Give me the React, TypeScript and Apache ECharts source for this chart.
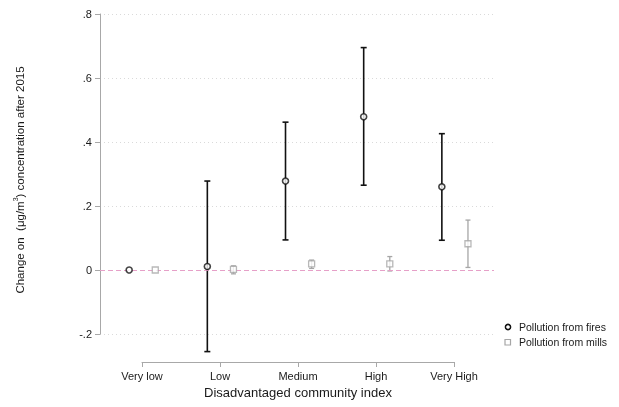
import React, { useEffect, useRef } from "react";
import * as echarts from "echarts";

const categories = ["Very low", "Low", "Medium", "High", "Very High"];
const yTickLabels: Record<string, string> = { "-0.2": "-.2", "0": "0", "0.2": ".2", "0.4": ".4", "0.6": ".6", "0.8": ".8" };

const firesEst = [0, 0.011, 0.278, 0.479, 0.26];
const firesLow = [0, -0.255, 0.094, 0.265, 0.093];
const firesHigh = [0, 0.278, 0.462, 0.695, 0.426];

const millsEst = [0, 0.002, 0.019, 0.019, 0.082];
const millsLow = [0, -0.012, 0.005, -0.003, 0.008];
const millsHigh = [0, 0.013, 0.031, 0.042, 0.156];

const FONT = "'Liberation Sans', Arial, sans-serif";
const OFFSET = 0.167;

function errorSeries(name: string, low: number[], high: number[], off: number, color: string, lw: number, capW: number) {
  const data = categories.map((_, i) => [i + 1 + off, low[i], high[i]]);
  return {
    type: "custom",
    name,
    xAxisIndex: 0,
    yAxisIndex: 0,
    silent: true,
    z: 2,
    renderItem: (params: any, api: any) => {
      const x = api.value(0);
      const lo = api.coord([x, api.value(1)]);
      const hi = api.coord([x, api.value(2)]);
      if (Math.abs(hi[1] - lo[1]) < 0.5) return { type: "group", children: [] };
      const st = { stroke: color, lineWidth: lw };
      return {
        type: "group",
        children: [
          { type: "line", shape: { x1: lo[0], y1: lo[1], x2: hi[0], y2: hi[1] }, style: st },
          { type: "line", shape: { x1: lo[0] - capW / 2, y1: lo[1], x2: lo[0] + capW / 2, y2: lo[1] }, style: st },
          { type: "line", shape: { x1: hi[0] - capW / 2, y1: hi[1], x2: hi[0] + capW / 2, y2: hi[1] }, style: st },
        ],
      };
    },
    encode: { x: 0, y: [1, 2] },
    data,
  };
}

export default function App() {
  const ref = useRef<HTMLDivElement>(null);
  useEffect(() => {
    if (!ref.current) return;
    const chart = echarts.init(ref.current, undefined, { renderer: "svg" });
    const axisColor = "#a8a8a8";
    const option: any = {
      animation: false,
      textStyle: { fontFamily: FONT },
      grid: [
        { left: 100, right: 125, top: 14, bottom: 73 },
        { left: 142, right: 165, top: 14, bottom: 73 },
      ],
      xAxis: [
        { type: "value", gridIndex: 0, min: 0.46, max: 5.5, show: false, splitLine: { show: false } },
        {
          type: "value",
          gridIndex: 1,
          min: 1,
          max: 5,
          interval: 1,
          position: "bottom",
          offset: 28,
          axisLine: { show: true, onZero: false, lineStyle: { color: axisColor, width: 1 } },
          axisTick: { show: true, length: 5, lineStyle: { color: axisColor } },
          splitLine: { show: false },
          axisLabel: {
            margin: 8,
            fontSize: 11,
            color: "#1a1a1a",
            fontFamily: FONT,
            formatter: (v: number) => categories[Math.round(v) - 1] ?? "",
          },
          name: "Disadvantaged community index",
          nameLocation: "middle",
          nameGap: 23,
          nameTextStyle: { fontSize: 13, color: "#1a1a1a", fontFamily: FONT },
        },
      ],
      yAxis: [
        {
          type: "value",
          gridIndex: 0,
          min: -0.2,
          max: 0.8,
          interval: 0.2,
          axisLine: { show: true, onZero: false, lineStyle: { color: axisColor, width: 1 } },
          axisTick: { show: true, length: 5, lineStyle: { color: axisColor } },
          axisLabel: {
            margin: 8,
            fontSize: 11,
            color: "#1a1a1a",
            fontFamily: FONT,
            formatter: (v: number) => yTickLabels[String(Math.round(v * 10) / 10)] ?? String(v),
          },
          splitLine: { show: true, lineStyle: { color: "#dadada", type: [1, 3], width: 1 } },
        },
        { type: "value", gridIndex: 1, min: -0.2, max: 0.8, show: false, splitLine: { show: false } },
      ],
      series: [
        {
          type: "line",
          name: "zero",
          xAxisIndex: 0,
          yAxisIndex: 0,
          data: [],
          silent: true,
          markLine: {
            symbol: "none",
            silent: true,
            label: { show: false },
            lineStyle: { color: "#e6a0c8", type: [5, 3], width: 1.2 },
            data: [{ yAxis: 0 }],
          },
        },
        errorSeries("firesCI", firesLow, firesHigh, -OFFSET, "#111", 1.6, 6),
        errorSeries("millsCI", millsLow, millsHigh, OFFSET, "#a6a6a6", 1.3, 5),
        {
          type: "scatter",
          name: "Pollution from fires",
          xAxisIndex: 0,
          yAxisIndex: 0,
          z: 5,
          symbol: "circle",
          symbolSize: 6,
          itemStyle: { color: "#fff", borderColor: "#111", borderWidth: 1.6 },
          data: categories.map((_, i) => [i + 1 - OFFSET, firesEst[i]]),
        },
        {
          type: "scatter",
          name: "Pollution from mills",
          xAxisIndex: 0,
          yAxisIndex: 0,
          z: 5,
          symbol: "rect",
          symbolSize: 6,
          itemStyle: { color: "#fff", borderColor: "#a6a6a6", borderWidth: 1.3 },
          data: categories.map((_, i) => [i + 1 + OFFSET, millsEst[i]]),
        },
      ],
      graphic: [
        {
          type: "text",
          x: 19,
          y: 180,
          rotation: Math.PI / 2,
          style: {
            text: "{a|Change on  (μg/m}{s|3}{a|) concentration after 2015}",
            align: "center",
            verticalAlign: "middle",
            fill: "#1a1a1a",
            fontFamily: FONT,
            rich: {
              a: { fontSize: 11.5, fontFamily: FONT, fill: "#1a1a1a", verticalAlign: "bottom", lineHeight: 14 },
              s: { fontSize: 7, fontFamily: FONT, fill: "#1a1a1a", verticalAlign: "top", lineHeight: 14 },
            },
          },
        },
        {
          type: "circle",
          shape: { cx: 508, cy: 327, r: 2.6 },
          style: { fill: "#fff", stroke: "#111", lineWidth: 1.5 },
        },
        {
          type: "text",
          x: 519,
          y: 327,
          style: { text: "Pollution from fires", fontSize: 10.5, fontFamily: FONT, fill: "#1a1a1a", verticalAlign: "middle" },
        },
        {
          type: "rect",
          shape: { x: 505, y: 339.5, width: 5.5, height: 5.5 },
          style: { fill: "#fff", stroke: "#a6a6a6", lineWidth: 1.2 },
        },
        {
          type: "text",
          x: 519,
          y: 342,
          style: { text: "Pollution from mills", fontSize: 10.5, fontFamily: FONT, fill: "#1a1a1a", verticalAlign: "middle" },
        },
      ],
    };
    chart.setOption(option);
    return () => chart.dispose();
  }, []);
  return <div ref={ref} style={{ position: "fixed", left: 0, top: 0, width: 619, height: 407 }} />;
}
